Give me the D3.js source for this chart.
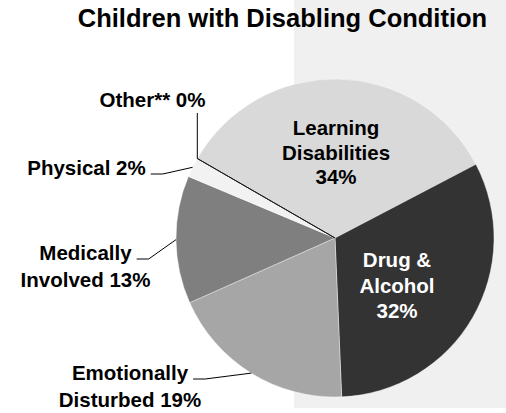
<!DOCTYPE html>
<html>
<head>
<meta charset="utf-8">
<script src="https://cdn.jsdelivr.net/npm/d3@7"></script>
<style>
  html, body { margin: 0; padding: 0; background: #ffffff; }
  svg { display: block; }
  text { font-family: "Liberation Sans", Arial, sans-serif; font-weight: bold; }
</style>
</head>
<body>
<svg id="chart" width="506" height="413"></svg>
<script>
// ---- data ----
const categories = ["Learning Disabilities", "Drug & Alcohol", "Emotionally Disturbed", "Medically Involved", "Physical", "Other**"];
const values = [34, 32, 19, 13, 2, 0];
const labelLines = [
  ["Learning", "Disabilities", "34%"],
  ["Drug &", "Alcohol", "32%"],
  ["Emotionally", "Disturbed 19%"],
  ["Medically", "Involved 13%"],
  ["Physical 2%"],
  ["Other** 0%"]
];
const title = "Children with Disabling Condition";

// ---- styling / layout ----
const W = 506, H = 413;
const cx = 335, cy = 238, R = 159;
const colors = ["#d9d9d9", "#333333", "#a6a6a6", "#7f7f7f", "#f2f2f2", "#ffffff"];
const textColors = ["#000", "#fff"];
const fontSize = 20.5;

const svg = d3.select("#chart");

// light gray panel on the right
svg.append("rect").attr("x", 294).attr("y", 0).attr("width", W - 294).attr("height", 408).attr("fill", "#f0f0f0");

// title
svg.append("text").attr("x", 282.5).attr("y", 27).attr("text-anchor", "middle")
  .attr("font-size", 25.5).attr("fill", "#000").text(title);

const data = categories.map((c, i) => ({ cat: c, value: values[i], idx: i }));
const pie = d3.pie().sort(null).value(d => d.value).startAngle(-Math.PI / 3).endAngle(-Math.PI / 3 + 2 * Math.PI);
const arcs = pie(data);
const arc = d3.arc().innerRadius(0).outerRadius(R);

const g = svg.append("g").attr("transform", `translate(${cx},${cy})`);
g.selectAll("path.slice").data(arcs.filter(a => a.data.value > 0)).join("path")
  .attr("class", "slice")
  .attr("d", arc)
  .attr("fill", d => colors[d.data.idx])
  .attr("stroke", "#ffffff").attr("stroke-width", 0.4);
// zero-size slice drawn as its outline
g.selectAll("path.zero").data(arcs.filter(a => a.data.value === 0)).join("path")
  .attr("class", "zero")
  .attr("d", arc)
  .attr("fill", "none")
  .attr("stroke", "#1a1a1a").attr("stroke-width", 1);

function pointAt(angle, r) {
  return [cx + r * Math.sin(angle), cy - r * Math.cos(angle)];
}

// inside labels (offsets from pie centre)
const insideLayout = { 0: { dx: 1, dy: -103, lh: 24.5, color: textColors[0] }, 1: { dx: 62, dy: 29, lh: 25.5, color: textColors[1] } };
Object.keys(insideLayout).forEach(k => {
  const L = insideLayout[k];
  const t = svg.append("text").attr("text-anchor", "middle").attr("font-size", fontSize).attr("fill", L.color);
  labelLines[k].forEach((line, j) => {
    t.append("tspan").attr("x", cx + L.dx).attr("y", cy + L.dy + j * L.lh).text(line);
  });
});

// outside labels with leader lines: centre x of text block, first baseline
const outsideLayout = {
  2: { x: 130, y: 380, lh: 27 },
  3: { x: 85.5, y: 260, lh: 27 },
  4: { x: 86.5, y: 175, lh: 27 },
  5: { x: 152.5, y: 107, lh: 27, vertical: true }
};
Object.keys(outsideLayout).forEach(k => {
  const L = outsideLayout[k];
  const a = arcs[k];
  const t = svg.append("text").attr("text-anchor", "middle").attr("font-size", fontSize).attr("fill", "#000");
  labelLines[k].forEach((line, j) => {
    t.append("tspan").attr("x", L.x).attr("y", L.y + j * L.lh).text(line);
  });
  const mid = (a.startAngle + a.endAngle) / 2;
  const p = pointAt(mid, R);
  let pts;
  if (L.vertical) {
    pts = [[p[0], L.y + 6], p];
  } else {
    const w = t.select("tspan").node().getComputedTextLength();
    const x0 = L.x + w / 2 + 5;
    pts = [[x0, L.y - 1], [x0 + 12, L.y - 1], p];
  }
  svg.append("path").attr("d", d3.line()(pts)).attr("fill", "none").attr("stroke", "#000").attr("stroke-width", 1);
});
</script>
</body>
</html>
